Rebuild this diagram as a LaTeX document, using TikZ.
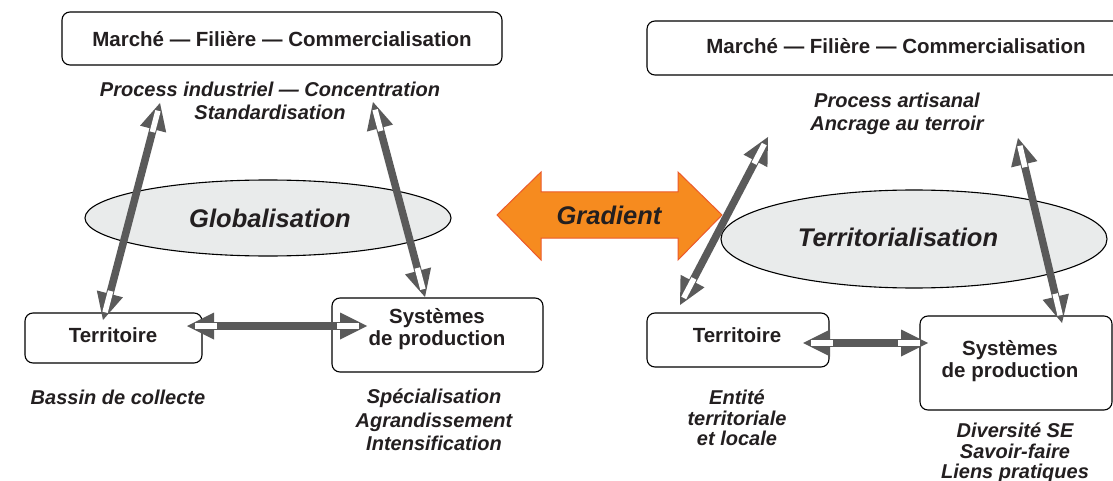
\documentclass[tikz,border=0pt]{standalone}
\usepackage{fontspec}
\setmainfont{Liberation Sans}
\usepackage{xcolor}
\usetikzlibrary{calc}
\definecolor{inkgray}{HTML}{231F20}
\definecolor{shaftgray}{HTML}{5A5A5A}
\definecolor{ovalgray}{HTML}{E9EBEB}
\definecolor{gradfill}{HTML}{F68B1F}
\definecolor{gradline}{HTML}{EC5A2B}
\tikzset{
	box/.style={draw,line width=1.1pt,rounded corners=8pt,text=inkgray,
		font=\fontsize{20.5}{24}\selectfont\bfseries,align=center},
	oval/.style={draw,line width=1.1pt,fill=ovalgray},
	note/.style={text=inkgray,font=\fontsize{20}{23.5}\selectfont\bfseries\itshape,align=center},
	big/.style={text=inkgray,font=\fontsize{25.5}{30}\selectfont\bfseries\itshape},
	gshaft/.style={draw=shaftgray,line width=7.5pt},
	ghead/.style={fill=shaftgray},
	gwhite/.style={draw=white,line width=5.5pt}
}
\begin{document}
\begin{tikzpicture}[x=1pt,y=-1pt]
		\clip (0,0) rectangle (1113,481);
		\fill[white] (0,0) rectangle (1113,481);
		%
		\draw[oval] (268,218) ellipse (183 and 38);
		\draw[oval] (914,239) ellipse (193 and 49);
		\draw[draw=gradline,fill=gradfill,line width=1pt,line join=miter]
			(497,215) -- (541,172) -- (541,192) -- (678,192) -- (678,172)
			-- (722,215) -- (678,260) -- (678,238) -- (541,238) -- (541,260) -- cycle;
		%
		\node[box,minimum width=440pt,minimum height=53pt] (MarcheG) at (282,38.5) {};
		\node[box,minimum width=177pt,minimum height=50pt] (TerrG) at (113.5,338) {};
		\node[box,minimum width=211pt,minimum height=74pt] (SystG) at (437.5,335) {};
		\node[box,minimum width=490pt,minimum height=54pt] (MarcheD) at (892,48) {};
		\node[box,minimum width=182pt,minimum height=54pt] (TerrD) at (738,340) {};
		\node[box,minimum width=192pt,minimum height=94pt] (SystD) at (1016,363) {};
		%
		\coordinate (g1a) at (103,320);
		\coordinate (g1b) at (160,103);
		\coordinate (g2a) at (425,297);
		\coordinate (g2b) at (373,102);
		\coordinate (g3a) at (187,326);
		\coordinate (g3b) at (367,326);
		\coordinate (d1a) at (680,305);
		\coordinate (d1b) at (768,137);
		\coordinate (d2a) at (1062,323);
		\coordinate (d2b) at (1018,138);
		\coordinate (d3a) at (803,343);
		\coordinate (d3b) at (928,343);
		\foreach \a/\b in {g1a/g1b,g2a/g2b,g3a/g3b,d1a/d1b,d2a/d2b,d3a/d3b}{
			\draw[gshaft] ($(\a)!22pt!(\b)$) -- ($(\b)!22pt!(\a)$);
			\foreach \p/\q in {\a/\b,\b/\a}{
				\coordinate (hb) at ($(\p)!27pt!(\q)$);
				\fill[ghead] (\p) -- ($(hb)!13.5pt!90:(\q)$) -- ($(hb)!13.5pt!-90:(\q)$) -- cycle;
				\draw[gwhite] ($(\p)!8pt!(\q)$) -- ($(\p)!30pt!(\q)$);
			}
		}
		%
		\node[box,draw=none] (tMarcheG) at (282,39) {Marché --- Filière --- Commercialisation};
		\node[box,draw=none] (tTerrG) at (113,335) {Territoire};
		\node[box,draw=none,font=\fontsize{20.5}{22}\selectfont\bfseries] (tSystG) at (437,329) {Systèmes\\de production};
		\node[box,draw=none] (tMarcheD) at (896,46) {Marché --- Filière --- Commercialisation};
		\node[box,draw=none] (tTerrD) at (737,335) {Territoire};
		\node[box,draw=none,font=\fontsize{20.5}{21.5}\selectfont\bfseries] (tSystD) at (1010,361) {Systèmes\\de production};
		%
		\node[big] (glob) at (270,218) {Globalisation};
		\node[big] (terri) at (898,237) {Territorialisation};
		\node[big] (grad) at (609,215) {Gradient};
		%
		\node[note] (procG) at (270,101) {Process industriel --- Concentration\\Standardisation};
		\node[note] (bassin) at (118,397) {Bassin de collecte};
		\node[note] (specia) at (434,420) {Spécialisation\\Agrandissement\\Intensification};
		\node[note] (procD) at (897,114) {Process artisanal\\Ancrage au terroir};
		\node[note,font=\fontsize{20}{20.5}\selectfont\bfseries\itshape] (entite) at (737,418) {Entité\\territoriale\\et locale};
		\node[note,font=\fontsize{20}{20.5}\selectfont\bfseries\itshape] (divers) at (1015,453) {Diversité SE\\Savoir-faire\\Liens pratiques};
		\end{tikzpicture}
\end{document}
